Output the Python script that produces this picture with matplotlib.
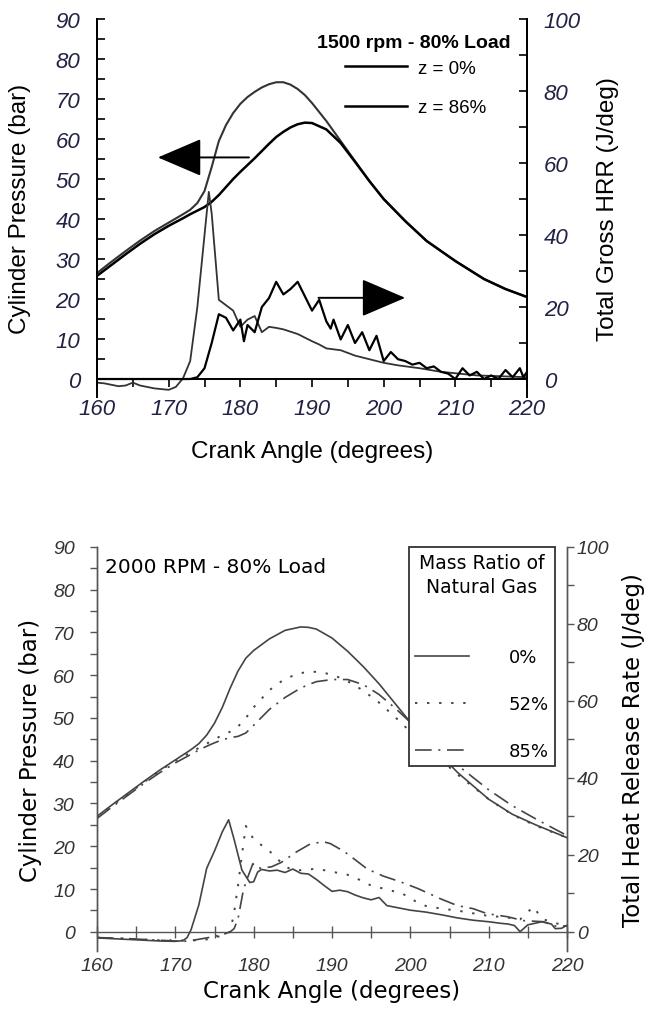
import numpy as np
import matplotlib
matplotlib.use('Agg')
import matplotlib.pyplot as plt
from matplotlib.ticker import MultipleLocator
from matplotlib.lines import Line2D

# ---------------- top panel: 1500 rpm - 80% load ----------------
ca_top_p = [160, 162, 164, 166, 168, 170, 172, 173, 174, 175, 176, 177, 178, 179, 180,
            181, 182, 183, 184, 185, 186, 187, 188, 189, 190, 192, 194, 196, 198, 200,
            203, 206, 210, 214, 217, 220]
p_top_z0 = [26.5, 29.3, 32.0, 34.6, 37.0, 39.1, 41.2, 42.3, 44.0, 47.0, 53.0, 59.5, 63.5,
            66.5, 68.8, 70.5, 71.8, 72.9, 73.7, 74.2, 74.2, 73.6, 72.5, 71.0, 69.0, 64.5,
            59.5, 54.5, 49.5, 45.0, 39.5, 34.5, 29.5, 25.0, 22.5, 20.5]
p_top_z86 = [25.8, 28.5, 31.2, 33.8, 36.2, 38.3, 40.2, 41.2, 42.1, 43.0, 44.3, 46.0, 48.0,
             50.0, 51.8, 53.5, 55.2, 57.0, 58.8, 60.5, 61.8, 62.9, 63.7, 64.1, 64.0, 62.4,
             59.0, 54.3, 49.5, 45.0, 39.5, 34.5, 29.5, 25.0, 22.5, 20.5]

ca_top_h1 = [160, 161, 162, 163, 164, 165, 166, 167, 168, 169, 170, 171, 172, 173, 174,
             175, 175.6, 176, 176.5, 177, 178, 179, 180, 181, 182, 183, 184, 185, 186,
             188, 190, 191, 192, 194, 196, 198, 200, 202, 205, 208, 210, 213, 216, 220]
hrr_top_h1 = [-1.0, -1.2, -1.6, -2.0, -1.8, -1.0, -1.8, -2.2, -2.6, -2.8, -3.0, -2.2, 0.2,
              5.0, 20.0, 40.0, 52.0, 46.0, 34.0, 22.0, 20.5, 19.0, 14.5, 16.5, 17.5, 13.0,
              14.5, 14.2, 13.8, 12.5, 10.5, 9.6, 8.5, 8.0, 6.5, 5.5, 4.5, 3.8, 3.0, 2.0,
              1.6, 1.0, 0.8, 0.5]

ca_top_h2 = [160, 173, 174, 175, 176, 177, 178, 179, 180, 180.5, 181, 182, 183, 184, 185,
             186, 187, 188, 189, 190, 191, 192, 192.6, 193, 194, 195, 196, 197, 198, 199,
             200, 201, 202, 203, 204, 205, 206, 207, 208, 209, 210, 211, 212, 213, 214,
             215, 216, 217, 218, 219, 219.5, 220]
hrr_top_h2 = [0.0, 0.0, 0.5, 3.0, 10.0, 18.0, 17.0, 13.5, 16.5, 10.5, 15.0, 13.0, 20.0,
              22.5, 27.0, 23.5, 25.0, 27.0, 23.0, 19.0, 22.0, 16.0, 14.0, 16.5, 11.0, 15.0,
              10.0, 13.0, 8.0, 12.0, 5.0, 7.5, 5.5, 5.0, 4.0, 4.5, 3.0, 3.5, 2.0, 1.5, 0.0,
              3.0, 1.0, 2.0, 0.0, 1.0, 0.0, 2.5, 0.5, 3.0, 0.5, 2.0]

# ---------------- bottom panel: 2000 RPM - 80% load ----------------
ca_bot_p = [160, 162, 164, 166, 168, 170, 172, 173, 174, 175, 176, 177, 178, 179, 180,
            182, 184, 186, 187, 188, 190, 192, 194, 196, 198, 200, 203, 206, 210, 213,
            216, 220]
p_bot_0 = [27.0, 29.8, 32.5, 35.2, 37.8, 40.2, 42.6, 44.0, 46.0, 48.8, 52.5, 57.0, 61.0,
           64.0, 65.8, 68.5, 70.5, 71.3, 71.2, 70.8, 68.7, 65.6, 62.0, 58.0, 53.5, 49.0,
           43.0, 37.3, 31.0, 27.5, 25.0, 22.0]
p_bot_52 = [26.8, 29.6, 32.3, 35.0, 37.6, 40.0, 42.0, 43.0, 44.0, 45.0, 46.0, 46.8, 48.0,
            50.0, 52.5, 56.5, 59.2, 60.5, 60.8, 60.8, 60.2, 58.6, 56.4, 53.6, 50.3, 46.8,
            41.8, 36.8, 31.0, 27.4, 24.8, 22.0]
p_bot_85 = [26.5, 29.3, 32.0, 34.7, 37.2, 39.5, 41.5, 42.5, 43.4, 44.2, 44.9, 45.4, 45.7,
            46.5, 48.3, 52.0, 54.8, 57.0, 57.8, 58.5, 59.0, 59.0, 57.8, 55.5, 52.4, 49.0,
            44.2, 39.0, 33.2, 29.5, 26.4, 22.5]

ca_bot_h0 = [160, 162, 164, 166, 168, 170, 171, 171.5, 172, 173, 174, 175, 176, 176.8,
             177.5, 178.5, 179.5, 180, 180.5, 181, 182, 183, 184, 185, 186, 187, 188, 189,
             190, 191, 192, 193, 194, 195, 196, 197, 198, 200, 202, 204, 206, 208, 210,
             211.5, 212.5, 213.3, 214, 215, 216.8, 218, 218.5, 219.3, 220]
hrr_bot_h0 = [-1.6, -1.8, -2.0, -2.2, -2.4, -2.5, -2.3, -1.5, 0.5, 7.0, 16.5, 21.0, 26.0,
              29.1, 24.0, 16.0, 12.8, 13.0, 15.5, 16.2, 15.8, 16.0, 15.4, 16.3, 15.2, 15.0,
              13.6, 12.0, 10.5, 10.8, 10.4, 9.5, 8.8, 8.3, 8.9, 6.8, 6.4, 5.6, 5.1, 4.4,
              3.6, 3.0, 2.6, 2.2, 2.0, 1.6, 0.0, 1.8, 2.6, 2.0, 0.8, 0.9, 1.7]

ca_bot_h52 = [160, 164, 168, 172, 174, 176, 177, 177.5, 178, 178.5, 179, 180, 181, 182,
              183, 184, 185, 186, 187.6, 189, 190, 192, 193.2, 195, 197, 199, 201, 202,
              204, 206, 208, 210, 212, 214, 215.7, 216.8, 218, 220]
hrr_bot_h52 = [-1.5, -1.8, -2.2, -2.3, -2.0, -1.0, 0.0, 5.0, 12.0, 20.0, 27.5, 24.0,
               22.5, 21.0, 19.0, 17.0, 16.0, 16.0, 16.3, 16.0, 15.6, 14.8, 13.8, 12.0,
               11.0, 9.9, 7.5, 6.7, 6.0, 5.5, 4.8, 4.1, 3.8, 3.2, 6.5, 3.4, 2.5, 1.5]

ca_bot_h85 = [160, 164, 168, 171, 172, 174, 176, 177, 177.5, 178, 178.7, 179.3, 179.9,
              180.3, 181, 182.3, 183.5, 185.5, 187.2, 188.9, 189.8, 191, 192, 194.5, 196.5,
              198.7, 201, 203.8, 206, 208, 209.8, 212.4, 214.4, 217, 218.5, 220]
hrr_bot_h85 = [-1.5, -1.8, -2.2, -2.5, -2.3, -1.6, -0.8, 0.0, 0.8, 3.4, 11.0, 14.5, 17.7,
               16.7, 16.5, 16.9, 18.0, 20.8, 22.8, 23.4, 22.9, 21.5, 20.2, 16.3, 14.5,
               13.0, 11.2, 8.6, 6.8, 6.0, 4.7, 3.9, 2.9, 2.6, 1.5, 1.5]

legend_top = ['z = 0%', 'z = 86%']
legend_bot = ['0%', '52%', '85%']
xticks = [160, 170, 180, 190, 200, 210, 220]

NARROW = ['Liberation Sans Narrow', 'Liberation Sans', 'DejaVu Sans']
ARIAL = ['Liberation Sans', 'DejaVu Sans']
DASH = (0, (10, 4, 1.2, 4))
DOT = (0, (1.2, 5))

fig = plt.figure(figsize=(6.52, 10.12), dpi=100)

# ================= top =================
ax = fig.add_axes([0.1488, 0.6067, 0.6595, 0.3735])
axr = ax.twinx()
ax.set_xlim(160, 220)
ax.set_ylim(-4.5, 90)
axr.set_ylim(-5.0, 100)

ax.plot(ca_top_p, p_top_z0, color='#333333', lw=1.5)
ax.plot(ca_top_p, p_top_z86, color='black', lw=1.8)
axr.plot(ca_top_h1, hrr_top_h1, color='#333333', lw=1.3)
axr.plot(ca_top_h2, hrr_top_h2, color='black', lw=1.6)

for a in (ax, axr):
    a.spines['top'].set_visible(False)
    a.spines['bottom'].set_position(('data', 0))
ax.spines['left'].set_bounds(0, 90)
axr.spines['right'].set_bounds(0, 100)
axr.spines['bottom'].set_visible(False)
for a in (ax, axr):
    for s in a.spines.values():
        s.set_linewidth(1.4)

ax.set_xticks(xticks)
ax.xaxis.set_minor_locator(MultipleLocator(5))
ax.set_yticks(range(0, 91, 10))
ax.yaxis.set_minor_locator(MultipleLocator(5))
axr.set_yticks(range(0, 101, 20))
axr.yaxis.set_minor_locator(MultipleLocator(10))
ax.tick_params(axis='x', which='both', direction='out', length=6, width=1.2, pad=8)
ax.tick_params(axis='y', which='both', direction='in', length=6, width=1.2, pad=12)
axr.tick_params(axis='y', which='both', direction='in', length=6, width=1.2, pad=12)
for lab in ax.get_xticklabels() + ax.get_yticklabels() + axr.get_yticklabels():
    lab.set_family(NARROW)
    lab.set_style('italic')
    lab.set_fontsize(16)
    lab.set_color('#222244')

ax.set_xlabel('Crank Angle (degrees)', family=ARIAL, fontsize=17.5)
ax.xaxis.set_label_coords(0.5, -0.115)
ax.set_ylabel('Cylinder Pressure (bar)', family=ARIAL, fontsize=17.5, labelpad=18)
axr.set_ylabel('Total Gross HRR (J/deg)', family=ARIAL, fontsize=17.5, labelpad=12)

arrow_style = dict(arrowstyle='-|>,head_length=1.4,head_width=0.6', color='black',
                   lw=1.4, mutation_scale=20, shrinkA=0, shrinkB=0)
ax.annotate('', xy=(168.5, 55.4), xytext=(181.2, 55.4), arrowprops=arrow_style)
ax.annotate('', xy=(203.0, 20.3), xytext=(190.9, 20.3), arrowprops=arrow_style)

ax.text(0.962, 0.939, '1500 rpm - 80% Load', transform=ax.transAxes, ha='right',
        va='center', family=ARIAL, fontweight='bold', fontsize=14)
h_top = [Line2D([], [], color='black', lw=1.8), Line2D([], [], color='black', lw=1.8)]
ax.legend(h_top, legend_top, loc='upper left', bbox_to_anchor=(0.577, 0.893),
          frameon=False, handlelength=3.3, handletextpad=0.6, labelspacing=1.2,
          borderpad=0, borderaxespad=0, prop={'family': NARROW, 'size': 13.5})

# ================= bottom =================
bx = fig.add_axes([0.1488, 0.0593, 0.7209, 0.3992])
bxr = bx.twinx()
bx.set_xlim(160, 220)
bx.set_ylim(-4.5, 90)
bxr.set_ylim(-5.0, 100)

bx.plot(ca_bot_p, p_bot_0, color='#444444', lw=1.2, ls='-')
bx.plot(ca_bot_p, p_bot_52, color='#444444', lw=1.4, ls=DOT)
bx.plot(ca_bot_p, p_bot_85, color='#444444', lw=1.2, ls=DASH)
bxr.plot(ca_bot_h0, hrr_bot_h0, color='#444444', lw=1.2, ls='-')
bxr.plot(ca_bot_h52, hrr_bot_h52, color='#444444', lw=1.4, ls=DOT)
bxr.plot(ca_bot_h85, hrr_bot_h85, color='#444444', lw=1.2, ls=DASH)

for a in (bx, bxr):
    a.spines['top'].set_visible(False)
    a.spines['bottom'].set_position(('data', 0))
bxr.spines['bottom'].set_visible(False)
for a in (bx, bxr):
    for s in a.spines.values():
        s.set_linewidth(1.0)
        s.set_color('#555555')

bx.set_xticks(xticks)
bx.xaxis.set_minor_locator(MultipleLocator(5))
bx.set_yticks(range(0, 91, 10))
bx.yaxis.set_minor_locator(MultipleLocator(5))
bxr.set_yticks(range(0, 101, 20))
bxr.yaxis.set_minor_locator(MultipleLocator(10))
bx.tick_params(axis='x', which='both', direction='inout', length=8, width=1.0,
               color='#555555', pad=14)
bx.tick_params(axis='y', which='both', direction='out', length=5, width=1.0,
               color='#555555', pad=11)
bxr.tick_params(axis='y', which='both', direction='out', length=5, width=1.0,
                color='#555555', pad=2)
for lab in bx.get_xticklabels() + bx.get_yticklabels() + bxr.get_yticklabels():
    lab.set_family(ARIAL)
    lab.set_style('italic')
    lab.set_fontsize(14)
    lab.set_color('#333333')

bx.set_xlabel('Crank Angle (degrees)', family='DejaVu Sans', fontsize=16.5)
bx.xaxis.set_label_coords(0.5, -0.07)
bx.set_ylabel('Cylinder Pressure (bar)', family='DejaVu Sans', fontsize=16.5, labelpad=8)
bxr.set_ylabel('Total Heat Release Rate (J/deg)', family='DejaVu Sans', fontsize=16.5,
               labelpad=9)

bx.text(0.018, 0.975, '2000 RPM - 80% Load', transform=bx.transAxes, family='DejaVu Sans',
        fontsize=14.5, va='top', ha='left')

h_bot = [Line2D([], [], color='#444444', lw=1.2, ls='-'),
         Line2D([], [], color='#444444', lw=1.4, ls=DOT),
         Line2D([], [], color='#444444', lw=1.2, ls=DASH)]
leg2 = bx.legend(h_bot, legend_bot, loc='upper right', bbox_to_anchor=(0.975, 1.0),
                 frameon=True, fancybox=False, edgecolor='#333333', framealpha=1,
                 handlelength=3.0, handletextpad=2.2, labelspacing=1.6, borderpad=0.35,
                 borderaxespad=0.0,
                 title='Mass Ratio of\nNatural Gas\n',
                 title_fontproperties={'family': 'DejaVu Sans', 'size': 13.5},
                 prop={'family': 'DejaVu Sans', 'size': 13})
leg2.get_title().set_multialignment('center')
leg2.get_title().set_linespacing(1.3)
leg2.get_frame().set_linewidth(1.3)

fig.savefig('out.png', dpi=100)
